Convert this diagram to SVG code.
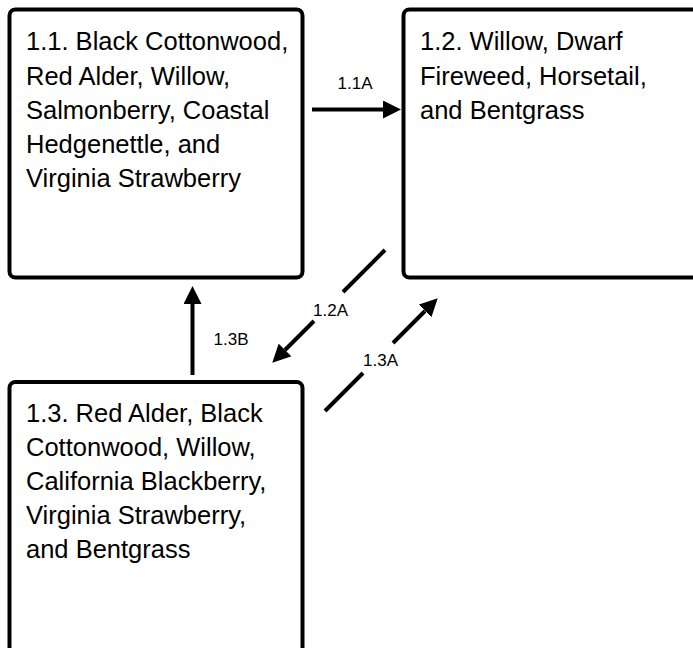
<svg xmlns="http://www.w3.org/2000/svg" width="693" height="648" viewBox="0 0 693 648">
<style>
.box{fill:#fff;stroke:#000;stroke-width:4}
.t{font-family:"Liberation Sans",Arial,sans-serif;font-size:25.5px;fill:#000}
.l{font-family:"Liberation Sans",Arial,sans-serif;font-size:17px;fill:#000;text-anchor:middle}
.c{fill:none;stroke:#000;stroke-width:4;marker-end:url(#ah)}
</style>
<defs>
<marker id="ah" markerUnits="userSpaceOnUse" markerWidth="18" markerHeight="18" viewBox="0 -8 16 16" refX="0" refY="0" orient="auto">
<path d="M0,-8 L16,0 L0,8 Z" fill="#000"/>
</marker>
</defs>
<rect width="693" height="648" fill="#fff"/>
<g id="n11">
<rect class="box" x="9.5" y="9.5" width="293" height="268" rx="6"/>
<text class="t" x="26" y="50">1.1. Black Cottonwood,</text>
<text class="t" x="26" y="85">Red Alder, Willow,</text>
<text class="t" x="26" y="119">Salmonberry, Coastal</text>
<text class="t" x="26" y="153">Hedgenettle, and</text>
<text class="t" x="26" y="187">Virginia Strawberry</text>
</g>
<g id="n12">
<rect class="box" x="403.5" y="9.5" width="300" height="268" rx="6"/>
<text class="t" x="420" y="50">1.2. Willow, Dwarf</text>
<text class="t" x="420" y="85">Fireweed, Horsetail,</text>
<text class="t" x="420" y="119">and Bentgrass</text>
</g>
<g id="n13">
<rect class="box" x="9.5" y="382" width="293" height="300" rx="6"/>
<text class="t" x="26" y="422">1.3. Red Alder, Black</text>
<text class="t" x="26" y="456">Cottonwood, Willow,</text>
<text class="t" x="26" y="490">California Blackberry,</text>
<text class="t" x="26" y="524">Virginia Strawberry,</text>
<text class="t" x="26" y="558">and Bentgrass</text>
</g>
<g id="connectors">
<path class="c" d="M312,109.5 L383,109.5"/>
<text class="l" x="355" y="89">1.1A</text>
<path class="c" d="M192.5,375 L192.5,304"/>
<text class="l" x="231" y="345">1.3B</text>
<path class="c" d="M385,250 L343,292 M314,321 L285,350"/>
<text class="l" x="330.5" y="316">1.2A</text>
<path class="c" d="M325,411 L363,373 M393,343 L425,311"/>
<text class="l" x="380.5" y="366">1.3A</text>
</g>
</svg>
